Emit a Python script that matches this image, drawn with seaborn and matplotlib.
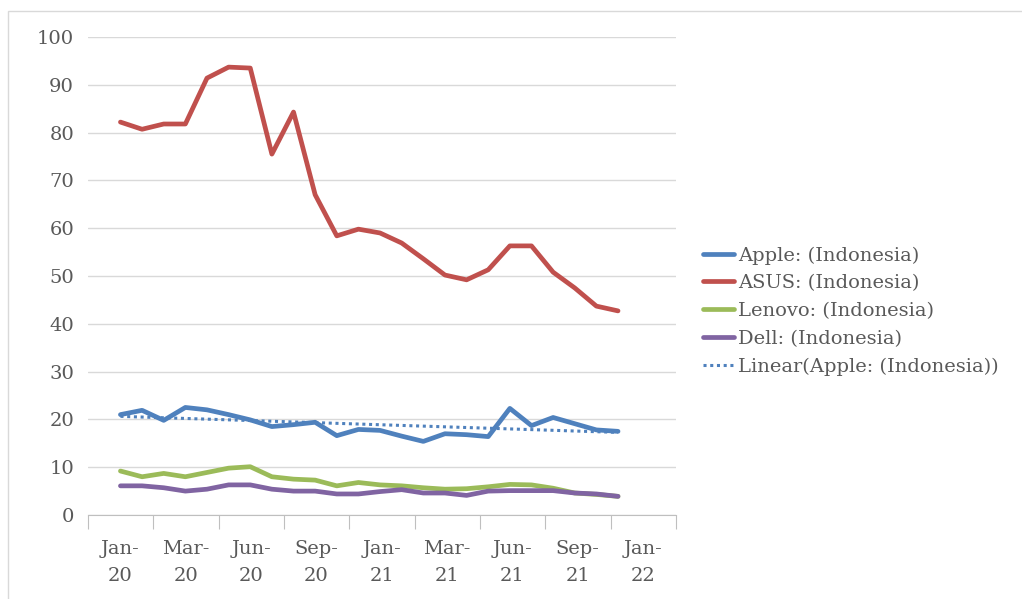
import pandas as pd
import numpy as np
import matplotlib
matplotlib.use("Agg")
import matplotlib.pyplot as plt
from matplotlib.patches import Rectangle
from matplotlib.lines import Line2D
import seaborn as sns

# Monthly values, Jan-20 .. Dec-21
months = pd.date_range("2020-01-01", "2021-12-01", freq="MS").strftime("%b-%y").tolist()
apple = [21.0, 21.9, 19.8, 22.5, 22.0, 21.0, 19.9, 18.5, 18.9, 19.4, 16.6, 17.9,
         17.7, 16.5, 15.4, 17.0, 16.8, 16.4, 22.3, 18.7, 20.4, 19.1, 17.8, 17.5]
asus = [82.2, 80.7, 81.8, 81.8, 91.4, 93.7, 93.5, 75.5, 84.3, 67.0, 58.4, 59.8,
        59.0, 56.9, 53.6, 50.2, 49.2, 51.3, 56.3, 56.3, 50.8, 47.5, 43.7, 42.7]
lenovo = [9.2, 8.0, 8.7, 8.0, 8.9, 9.8, 10.1, 8.0, 7.5, 7.3, 6.1, 6.8,
          6.3, 6.1, 5.7, 5.4, 5.5, 5.9, 6.4, 6.3, 5.6, 4.6, 4.3, 3.9]
dell = [6.1, 6.1, 5.7, 5.0, 5.4, 6.3, 6.3, 5.4, 5.0, 5.0, 4.4, 4.4,
        4.9, 5.3, 4.6, 4.6, 4.1, 5.0, 5.1, 5.1, 5.1, 4.6, 4.4, 3.9]

tick_labels = ["Jan-\n20", "Mar-\n20", "Jun-\n20", "Sep-\n20", "Jan-\n21",
               "Mar-\n21", "Jun-\n21", "Sep-\n21", "Jan-\n22"]

series = {
    "Apple: (Indonesia)": apple,
    "ASUS: (Indonesia)": asus,
    "Lenovo: (Indonesia)": lenovo,
    "Dell: (Indonesia)": dell,
}
colors = ["#4F81BD", "#C0504D", "#9BBB59", "#8064A2"]

df = pd.DataFrame(series)
df["idx"] = np.arange(len(months))
long_df = df.melt(id_vars="idx", var_name="brand", value_name="value")

sns.set_style("white")
plt.rcParams["font.family"] = ["DejaVu Serif"]
text_col = "#595959"
fs = 14

fig = plt.figure(figsize=(10.22, 5.99), dpi=100)
ax = fig.add_axes([88 / 1022, 1 - 515 / 599, (676 - 88) / 1022, (515 - 37) / 599])

# chart border
fig.patches.append(Rectangle((8 / 1022, -0.1), 1.2, 1.1 - 11 / 599,
                             transform=fig.transFigure, fill=False,
                             edgecolor="#D9D9D9", linewidth=1))

sns.lineplot(data=long_df, x="idx", y="value", hue="brand",
             palette=colors, linewidth=3.4, ax=ax, legend=False)

# linear trendline for Apple
sns.regplot(data=df, x="idx", y="Apple: (Indonesia)", scatter=False, ci=None,
            ax=ax, truncate=True,
            line_kws={"color": "#4F81BD", "linewidth": 2.2, "linestyle": (0, (1, 1.2))})

ax.set_xlim(-1.5, 25.6)
ax.set_ylim(0, 100)
ax.set_yticks(range(0, 101, 10))
ax.yaxis.grid(True, color="#D9D9D9", linewidth=1)
ax.set_axisbelow(True)
for s in ["left", "top", "right"]:
    ax.spines[s].set_visible(False)
ax.spines["bottom"].set_color("#BFBFBF")

ax.set_xticks([-1.5 + 3.02 * i for i in range(10)], minor=False)
ax.set_xticklabels([])
ax.set_xticks([3.02 * i for i in range(9)], minor=True)
ax.set_xticklabels(tick_labels, minor=True, linespacing=1.65)
ax.tick_params(axis="x", which="major", length=10, color="#BFBFBF", bottom=True)
ax.tick_params(axis="x", which="minor", length=0, pad=18, labelsize=fs, labelcolor=text_col)
ax.tick_params(axis="y", length=0, pad=10, labelsize=fs, labelcolor=text_col)
ax.set_xlabel("")
ax.set_ylabel("")

handles = [Line2D([], [], color=c, linewidth=3.4) for c in colors]
handles.append(Line2D([], [], color="#4F81BD", linewidth=2.2, linestyle=(0, (1, 1.2))))
labels = list(series.keys()) + ["Linear(Apple: (Indonesia))"]
fig.legend(handles, labels, loc="center left", bbox_to_anchor=(695 / 1022, 1 - 311 / 599),
           frameon=False, fontsize=fs, labelcolor=text_col, handlelength=1.6,
           handletextpad=0.2, labelspacing=0.5, borderaxespad=0)

fig.savefig("out.png", dpi=100, facecolor="white")
